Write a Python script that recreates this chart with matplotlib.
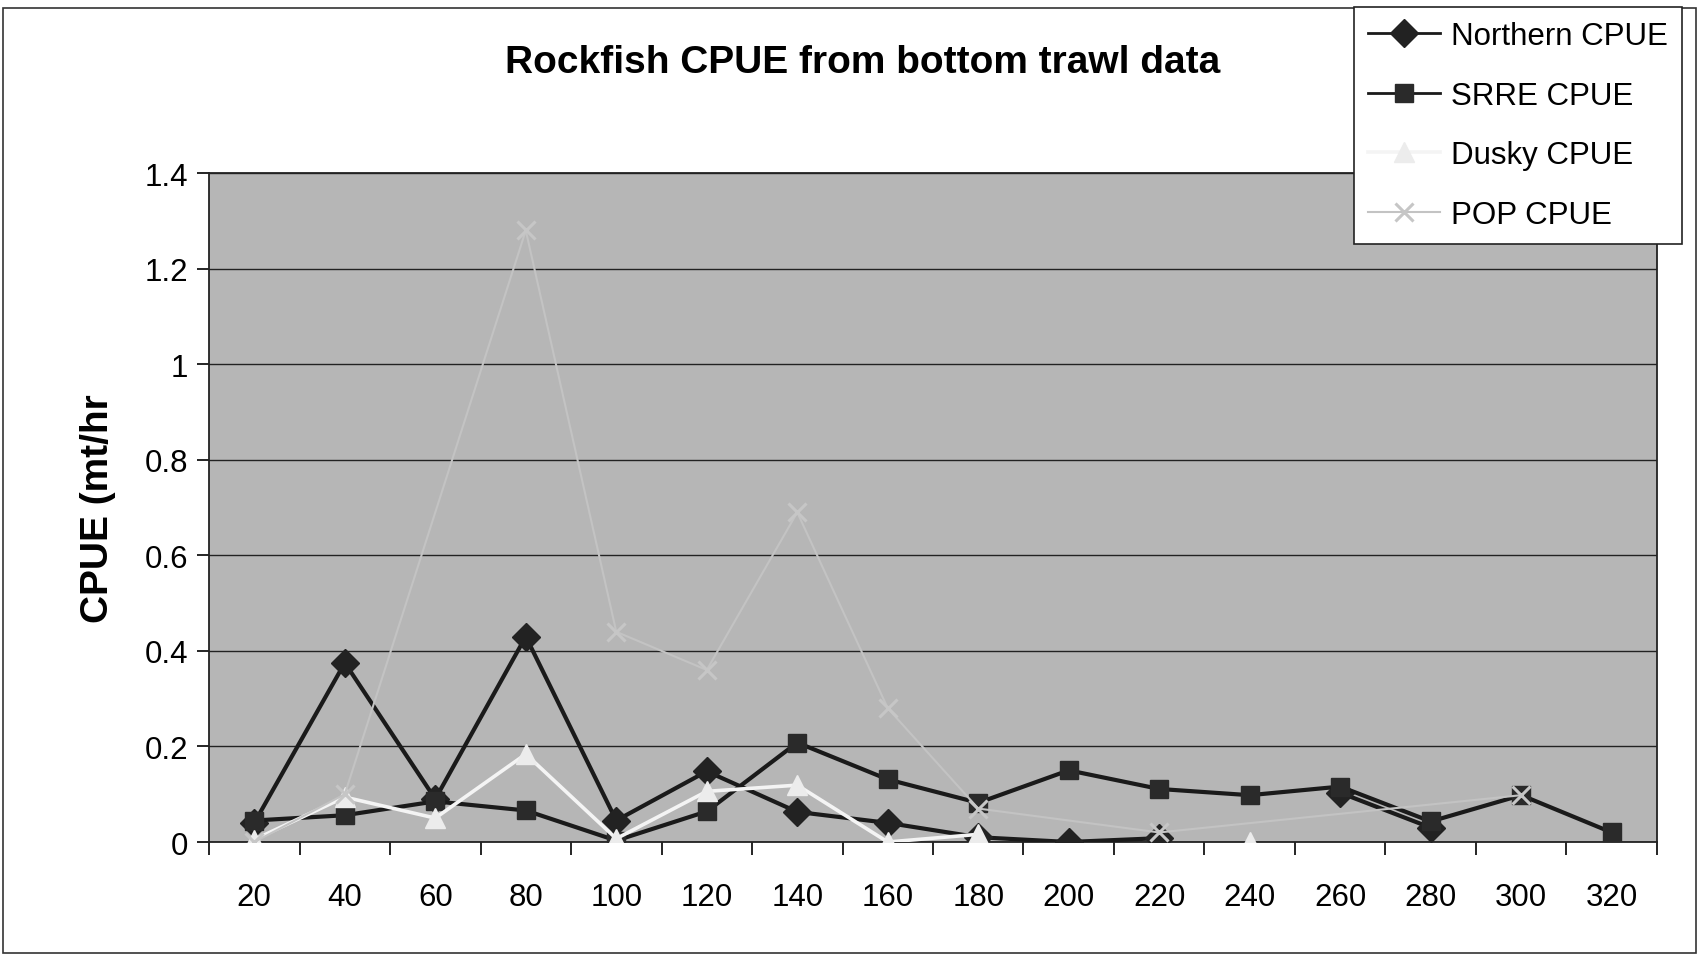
import numpy as np
import matplotlib.pyplot as plt
from matplotlib.patches import Rectangle

plt.rcParams['font.family'] = ['Liberation Sans', 'DejaVu Sans']

nan = np.nan

# depth bins (categories on the x axis)
depths = ['20', '40', '60', '80', '100', '120', '140', '160',
          '180', '200', '220', '240', '260', '280', '300', '320']

# CPUE (mt/hr)
northern = [0.04, 0.375, 0.09, 0.43, 0.045, 0.148, 0.063, 0.04,
            0.01, 0.0, 0.008, nan, 0.103, 0.03, nan, nan]
srre = [0.045, 0.056, 0.085, 0.066, 0.003, 0.064, 0.208, 0.131,
        0.082, 0.15, 0.111, 0.098, 0.116, 0.043, 0.098, 0.02]
dusky = [0.005, 0.094, 0.05, 0.184, 0.007, 0.106, 0.119, 0.0,
         0.016, nan, nan, 0.0, nan, nan, nan, nan]
pop = [0.0, 0.10, nan, 1.28, 0.44, 0.36, 0.69, 0.28,
       0.07, nan, 0.02, nan, nan, nan, 0.098, nan]

x = np.arange(len(depths))

fig = plt.figure(figsize=(17.01, 9.62), dpi=100)
ax = fig.add_axes([0.1229, 0.1237, 0.8512, 0.6953])
ax.set_facecolor('#b6b6b6')

# Excel-like horizontal gridlines
ax.set_ylim(0, 1.4)
ax.set_yticks(np.arange(0, 1.41, 0.2))
ax.set_yticklabels(['0', '0.2', '0.4', '0.6', '0.8', '1', '1.2', '1.4'])
ax.yaxis.grid(True, color='#222222', lw=1.0)
ax.set_axisbelow(True)

ax.set_xlim(-0.5, len(depths) - 0.5)
ax.set_xticks(x)
ax.set_xticklabels(depths)
ax.set_xticks(np.arange(-0.5, len(depths)), minor=True)
ax.tick_params(axis='x', which='major', length=0, pad=29, labelsize=22.5)
ax.tick_params(axis='x', which='minor', length=9, width=1.2, direction='out')
ax.tick_params(axis='y', length=9, width=1.2, pad=6, labelsize=22.5)

for s in ax.spines.values():
    s.set_color('#222222')
    s.set_linewidth(1.3)

ax.plot(x, northern, color='#1a1a1a', lw=3, marker='D', ms=14,
        mfc='#222222', mec='#222222', label='Northern CPUE', zorder=3)
ax.plot(x, srre, color='#1a1a1a', lw=3, marker='s', ms=13,
        mfc='#2a2a2a', mec='#2a2a2a', label='SRRE CPUE', zorder=3)
ax.plot(x, dusky, color='#f4f4f4', lw=2.6, marker='^', ms=15,
        mfc='#ececec', mec='#ececec', label='Dusky CPUE', zorder=4)

# POP has blanks that Excel bridged with a straight line;
# its pale marks almost vanish into the grey plot area
pop_arr = np.array(pop)
ok = ~np.isnan(pop_arr)
ax.plot(x[ok], pop_arr[ok], color='#c3c3c3', lw=1.5, marker='x', ms=13,
        mew=2.2, mec='#c6c6c6', label='POP CPUE', zorder=5)

ax.set_ylabel('CPUE (mt/hr', fontsize=28, fontweight='bold')
ax.yaxis.set_label_coords(-0.064, 0.5)

fig.text(0.507, 0.934, 'Rockfish CPUE from bottom trawl data',
         ha='center', va='center', fontsize=28, fontweight='bold')

leg = fig.legend(loc='upper right', bbox_to_anchor=(0.998, 1.008),
                 fontsize=22.5, frameon=True, fancybox=False,
                 edgecolor='#222222', framealpha=1, handlelength=2.3,
                 labelspacing=0.95, borderpad=0.45, handletextpad=0.35)
leg.get_frame().set_linewidth(1.2)
for h in leg.legend_handles[:2]:
    h.set_linewidth(2)

fig.patches.append(Rectangle((0.002, 0.008), 0.995, 0.983, transform=fig.transFigure,
                             fill=False, edgecolor='#333333', lw=1.2))

fig.savefig('out.png', dpi=100, facecolor='white')
